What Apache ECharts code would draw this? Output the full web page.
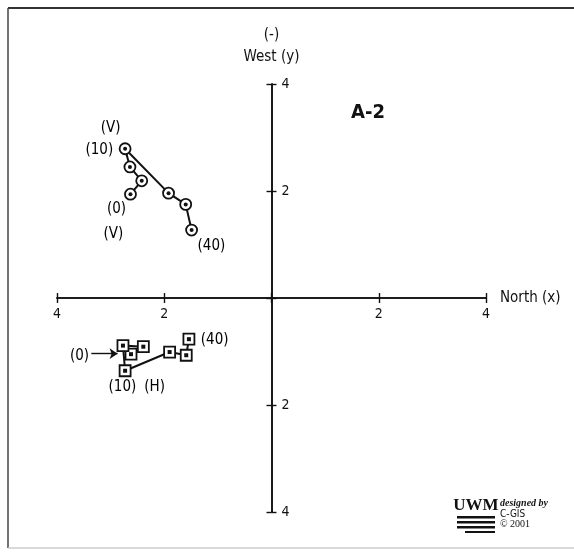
<!DOCTYPE html>
<html>
<head>
<meta charset="utf-8">
<script src="https://cdn.jsdelivr.net/npm/echarts@6/dist/echarts.min.js"></script>
<style>html,body{margin:0;padding:0;background:#fff}#c{width:574px;height:552px}</style>
</head>
<body>
<div id="c"></div>
<script>
// Vertical (V) component track, plotted as circles
const vX = [-2.63, -2.42, -2.64, -2.73, -1.92, -1.60, -1.49];
const vY = [1.94, 2.19, 2.45, 2.79, 1.96, 1.75, 1.27];
// Horizontal (H) component track, plotted as squares
const hX = [-2.62, -2.39, -2.77, -2.73, -1.90, -1.59, -1.54];
const hY = [-1.05, -0.91, -0.89, -1.36, -1.01, -1.07, -0.77];
// Axis ticks
const xTicks = [-4, -2, 0, 2, 4];
const yTicks = [-4, -2, 0, 2, 4];
// Annotations (text, x, y in data units)
const noteText = ['(V)', '(10)', '(0)', '(V)', '(40)', '(40)', '(0)', '(10)', '(H)'];
const noteX = [-3.00, -3.21, -2.89, -2.95, -1.12, -1.06, -3.58, -2.78, -2.18];
const noteY = [3.18, 2.77, 1.66, 1.20, 0.97, -0.79, -1.08, -1.66, -1.66];
// Arrow from "(0)" to H start
const arrowFrom = [-3.36, -1.04];
const arrowTo = [-2.87, -1.04];

const FONT = "'DejaVu Sans Condensed','Liberation Sans Narrow','Arial Narrow','Liberation Sans',Arial,sans-serif";
const INK = '#111';

const GL = 57, GR = 88, GT = 84, GB = 40, W = 574, H = 552;
const halfW = (W - GL - GR) / 2, halfH = (H - GT - GB) / 2;

const chart = echarts.init(document.getElementById('c'), null, {renderer: 'canvas'});
const fmt = v => (v === 0 ? '' : String(Math.abs(v)));

const tick = {show: true, inside: false, length: 5, lineStyle: {color: INK, width: 1.4}};
const baseX = {
  type: 'value', min: xTicks[0], max: xTicks[xTicks.length - 1], interval: 2,
  splitLine: {show: false},
  axisLine: {onZero: false, lineStyle: {color: INK, width: 1.6}},
  axisTick: tick
};
const baseY = {
  type: 'value', min: yTicks[0], max: yTicks[yTicks.length - 1], interval: 2,
  splitLine: {show: false},
  axisLine: {onZero: false, lineStyle: {color: INK, width: 1.6}},
  axisTick: tick
};

const option = {
  animation: false,
  backgroundColor: '#fff',
  grid: {left: GL, right: GR, top: GT, bottom: GB, containLabel: false},
  xAxis: [
    Object.assign({}, baseX, {
      position: 'bottom', offset: -halfH,
      name: 'North (x)', nameLocation: 'end', nameGap: 14,
      nameTextStyle: {fontFamily: FONT, fontSize: 15, color: INK},
      axisLabel: {show: true, formatter: fmt, margin: 9, fontFamily: FONT, fontSize: 14, color: INK}
    }),
    Object.assign({}, baseX, {
      position: 'top', offset: -halfH,
      axisLabel: {show: false}
    })
  ],
  yAxis: [
    Object.assign({}, baseY, {
      position: 'left', offset: -halfW,
      name: '(-)\nWest (y)', nameLocation: 'end', nameGap: 16,
      nameTextStyle: {fontFamily: FONT, fontSize: 15, color: INK, lineHeight: 22, align: 'center'},
      axisLabel: {show: false}
    }),
    Object.assign({}, baseY, {
      position: 'right', offset: -halfW,
      axisLabel: {show: true, formatter: fmt, margin: 10, fontFamily: FONT, fontSize: 14, color: INK}
    })
  ],
  series: [
    {
      type: 'line', name: 'V',
      data: vX.map((x, i) => [x, vY[i]]),
      symbol: 'circle', symbolSize: 11,
      itemStyle: {color: '#fff', borderColor: INK, borderWidth: 1.8},
      lineStyle: {color: INK, width: 2},
      z: 3
    },
    {
      type: 'scatter', name: 'Vdot',
      data: vX.map((x, i) => [x, vY[i]]),
      symbol: 'circle', symbolSize: 4,
      itemStyle: {color: INK, opacity: 1},
      z: 4
    },
    {
      type: 'line', name: 'H',
      data: hX.map((x, i) => [x, hY[i]]),
      symbol: 'rect', symbolSize: 11,
      itemStyle: {color: '#fff', borderColor: INK, borderWidth: 1.8},
      lineStyle: {color: INK, width: 2},
      z: 3
    },
    {
      type: 'scatter', name: 'Hdot',
      data: hX.map((x, i) => [x, hY[i]]),
      symbol: 'rect', symbolSize: 4,
      itemStyle: {color: INK, opacity: 1},
      z: 4
    },
    {
      type: 'scatter', name: 'notes',
      data: noteText.map((t, i) => ({name: t, value: [noteX[i], noteY[i]]})),
      symbolSize: 0,
      itemStyle: {opacity: 1},
      label: {show: true, position: 'inside', formatter: p => p.name,
        fontFamily: FONT, fontSize: 15, color: '#000', opacity: 1, textBorderWidth: 0},
      markLine: {
        silent: true, symbol: ['none', 'arrow'], symbolSize: 8,
        label: {show: false},
        lineStyle: {color: INK, width: 1.4, type: 'solid', opacity: 1},
        data: [[{coord: arrowFrom}, {coord: arrowTo}]]
      },
      z: 5
    }
  ],
  graphic: [
    {type: 'line', shape: {x1: 8, y1: 8, x2: 574, y2: 8}, style: {stroke: '#333', lineWidth: 2}},
    {type: 'line', shape: {x1: 8, y1: 8, x2: 8, y2: 548}, style: {stroke: '#444', lineWidth: 1.5}},
    {type: 'line', shape: {x1: 8, y1: 548, x2: 574, y2: 548}, style: {stroke: '#ccc', lineWidth: 1.5}},
    {type: 'text', x: 368, y: 113, style: {text: 'A-2', font: "bold 20px 'DejaVu Sans Condensed','Liberation Sans',Arial,sans-serif", fill: INK, textAlign: 'center', textVerticalAlign: 'middle'}},
    {type: 'text', x: 476, y: 506, style: {text: 'UWM', font: "900 17px 'Liberation Serif','DejaVu Serif',serif", fill: INK, textAlign: 'center', textVerticalAlign: 'middle'}},
    {type: 'rect', shape: {x: 457, y: 516, width: 38, height: 2.5}, style: {fill: INK}},
    {type: 'rect', shape: {x: 457, y: 521, width: 38, height: 2.5}, style: {fill: INK}},
    {type: 'rect', shape: {x: 457, y: 526, width: 38, height: 2.5}, style: {fill: INK}},
    {type: 'rect', shape: {x: 465, y: 531, width: 30, height: 2}, style: {fill: INK}},
    {type: 'text', x: 500, y: 503, style: {text: 'designed by', font: "italic bold 10px 'Liberation Serif','DejaVu Serif',serif", fill: INK, textVerticalAlign: 'middle'}},
    {type: 'text', x: 500, y: 514, style: {text: 'C-GIS', font: "10px 'DejaVu Sans Condensed','Liberation Sans',sans-serif", fill: INK, textVerticalAlign: 'middle'}},
    {type: 'text', x: 500, y: 524, style: {text: '\u00a9 2001', font: "10px 'Liberation Serif','DejaVu Serif',serif", fill: INK, textVerticalAlign: 'middle'}}
  ]
};
chart.setOption(option);
</script>
</body>
</html>
